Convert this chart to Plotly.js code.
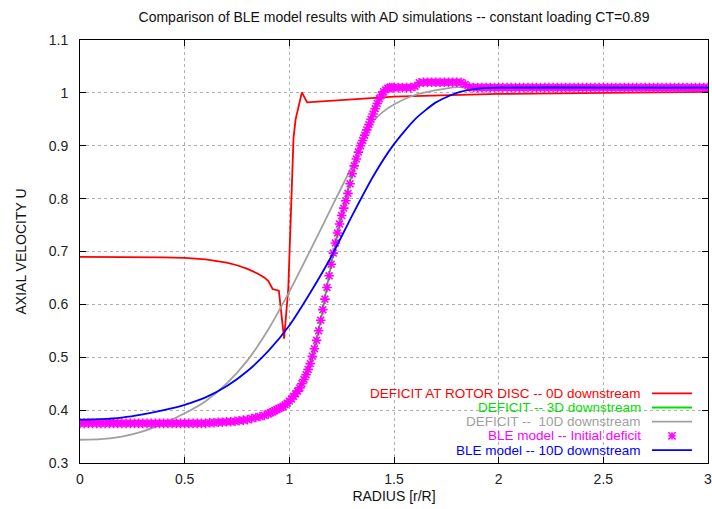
<!DOCTYPE html>
<html><head><meta charset="utf-8">
<script src="https://cdn.plot.ly/plotly-3.0.1.min.js"></script>
<style>html,body{margin:0;padding:0;background:#fff}#chart{width:712px;height:509px}</style>
</head><body><div id="chart"></div>
<script>
// ---- data ----
const chartTitle = "Comparison of BLE model results with AD simulations -- constant loading CT=0.89";
const xTitle = "RADIUS [r/R]";
const yTitle = "AXIAL VELOCITY U";
const seriesNames = [
  "DEFICIT AT ROTOR DISC -- 0D downstream",
  "DEFICIT -- 3D downstream",
  "DEFICIT --  10D downstream",
  "BLE model -- Initial deficit",
  "BLE model -- 10D downstream"
];
const seriesColors = ["#ff0000", "#00e000", "#a0a0a0", "#ff00ff", "#0000ff"];

// 0D downstream (red)
const redX = [0,0.2,0.4,0.5,0.6,0.7,0.75,0.8,0.85,0.88,0.90,0.92,0.95,0.975,0.995,1.01,1.02,1.03,1.06,1.085,1.2,1.5,2.0,2.5,3.0];
const redY = [0.690,0.690,0.689,0.688,0.685,0.679,0.674,0.667,0.658,0.651,0.644,0.629,0.626,0.535,0.630,0.800,0.915,0.950,1.001,0.982,0.985,0.993,0.998,1.000,1.002];

// 3D downstream (green, mostly hidden under the magenta markers)
const greenX = [0,0.5,0.8,0.9,1.0,1.05,1.1,1.15,1.2,1.25,1.3,1.35,1.4,1.45,1.5,1.6,1.65,1.82,1.86,2.0,3.0];
const greenY = [0.375,0.375,0.382,0.393,0.417,0.442,0.488,0.570,0.676,0.768,0.847,0.910,0.960,1.002,1.010,1.012,1.020,1.020,1.010,1.010,1.010];

// 10D downstream (gray)
const grayX = [0,0.1,0.2,0.3,0.4,0.5,0.6,0.7,0.8,0.9,1.0,1.1,1.2,1.3,1.4,1.45,1.5,1.6,1.7,1.8,1.9,2.0,2.5,3.0];
const grayY = [0.344,0.345,0.350,0.360,0.375,0.394,0.417,0.450,0.494,0.553,0.624,0.702,0.782,0.862,0.945,0.965,0.978,0.996,1.005,1.011,1.009,1.008,1.007,1.006];

// BLE model initial deficit (magenta markers)
const bleInitX = [
 0.00,0.02,0.04,0.06,0.08,0.10,0.12,0.14,0.16,0.18,0.20,0.22,0.24,0.26,0.28,0.30,0.32,0.34,0.36,0.38,
 0.40,0.42,0.44,0.46,0.48,0.50,0.52,0.54,0.56,0.58,0.60,0.62,0.64,0.66,0.68,0.70,0.72,0.74,0.76,0.78,
 0.80,0.82,0.84,0.86,0.88,0.90,
 0.91,0.92,0.93,0.94,0.95,0.96,0.97,0.98,0.99,1.00,1.01,1.02,1.03,1.04,1.05,1.06,1.07,1.08,1.09,1.10,
 1.11,1.12,1.13,1.14,1.15,1.16,1.17,1.18,1.19,1.20,1.21,1.22,1.23,1.24,1.25,1.26,1.27,1.28,1.29,1.30,
 1.31,1.32,1.33,1.34,1.35,1.36,1.37,1.38,1.39,1.40,1.41,1.42,1.43,1.44,1.45,1.46,1.47,1.48,1.49,1.50,
 1.52,1.54,1.56,1.58,1.60,1.62,1.64,1.66,1.68,1.70,1.72,1.74,1.76,1.78,1.80,1.82,1.84,1.86,1.88,1.90,
 1.92,1.94,1.96,1.98,2.00,2.02,2.04,2.06,2.08,2.10,2.12,2.14,2.16,2.18,2.20,2.22,2.24,2.26,2.28,2.30,
 2.32,2.34,2.36,2.38,2.40,2.42,2.44,2.46,2.48,2.50,2.52,2.54,2.56,2.58,2.60,2.62,2.64,2.66,2.68,2.70,
 2.72,2.74,2.76,2.78,2.80,2.82,2.84,2.86,2.88,2.90,2.92,2.94,2.96,2.98,3.00
];
const bleInitY = [
 0.375,0.375,0.375,0.375,0.375,0.375,0.375,0.375,0.375,0.375,0.375,0.375,0.375,0.375,0.375,0.375,0.375,0.375,0.375,0.375,
 0.375,0.375,0.375,0.375,0.375,0.375,0.375,0.375,0.375,0.375,0.375,0.376,0.376,0.377,0.377,0.378,0.378,0.379,0.380,0.381,
 0.382,0.384,0.386,0.388,0.390,0.393,
 0.395,0.397,0.399,0.401,0.403,0.405,0.407,0.410,0.413,0.417,0.421,0.426,0.431,0.436,0.442,0.450,0.458,0.467,0.477,0.488,
 0.502,0.516,0.532,0.550,0.570,0.590,0.610,0.632,0.654,0.676,0.697,0.716,0.735,0.752,0.768,0.782,0.796,0.810,0.828,0.847,
 0.862,0.875,0.888,0.900,0.910,0.920,0.930,0.940,0.950,0.960,0.970,0.980,0.989,0.996,1.002,1.006,1.009,1.010,1.010,1.010,
 1.010,1.010,1.010,1.010,1.012,1.019,1.020,1.020,1.020,1.020,1.020,1.020,1.020,1.020,1.020,1.020,1.016,1.011,1.010,1.010,
 1.010,1.010,1.010,1.010,1.010,1.010,1.010,1.010,1.010,1.010,1.010,1.010,1.010,1.010,1.010,1.010,1.010,1.010,1.010,1.010,
 1.010,1.010,1.010,1.010,1.010,1.010,1.010,1.010,1.010,1.010,1.010,1.010,1.010,1.010,1.010,1.010,1.010,1.010,1.010,1.010,
 1.010,1.010,1.010,1.010,1.010,1.010,1.010,1.010,1.010,1.010,1.010,1.010,1.010,1.010,1.010
];

// BLE model 10D downstream (blue)
const ble10X = [0,0.1,0.2,0.3,0.4,0.5,0.6,0.7,0.8,0.9,1.0,1.1,1.2,1.3,1.4,1.5,1.6,1.7,1.8,1.9,2.0,2.5,3.0];
const ble10Y = [0.382,0.383,0.386,0.392,0.400,0.410,0.424,0.445,0.474,0.512,0.560,0.622,0.690,0.768,0.842,0.903,0.950,0.982,1.000,1.008,1.010,1.010,1.010];

const xTicks = [0,0.5,1,1.5,2,2.5,3];
const yTicks = [0.3,0.4,0.5,0.6,0.7,0.8,0.9,1,1.1];

// ---- layout geometry ----
const W = 712, H = 509, ML = 80, MR = 4, MT = 40, MB = 46;
const PW = W - ML - MR, PH = H - MT - MB;
const px2x = p => (p - ML) / PW;
const py2y = p => (H - MB - p) / PH;
const FONT = "Liberation Sans, Arial, Helvetica, sans-serif";

const traces = [
  {x: redX, y: redY, mode: "lines", line: {color: seriesColors[0], width: 1.8}, name: seriesNames[0]},
  {x: greenX, y: greenY, mode: "lines", line: {color: seriesColors[1], width: 1.8, shape: "spline", smoothing: 0.5}, name: seriesNames[1]},
  {x: grayX, y: grayY, mode: "lines", line: {color: seriesColors[2], width: 1.8, shape: "spline", smoothing: 0.6}, name: seriesNames[2]},
  {x: bleInitX, y: bleInitY, mode: "markers", name: seriesNames[3],
   marker: {symbol: "asterisk-open", size: 8, color: seriesColors[3], line: {width: 1.6, color: seriesColors[3]}}},
  {x: ble10X, y: ble10Y, mode: "lines", line: {color: seriesColors[4], width: 1.8, shape: "spline", smoothing: 0.6}, name: seriesNames[4]}
];

// custom gnuplot-style key: right-aligned text, sample to the right
const rowPy = [393.3, 407.5, 421.7, 435.9, 450.1];
const annotations = [];
const shapes = [];
seriesNames.forEach((n, i) => {
  annotations.push({
    xref: "paper", yref: "paper", x: px2x(643), y: py2y(rowPy[i]),
    xanchor: "right", yanchor: "middle", showarrow: false, text: n,
    font: {family: FONT, size: 13.5, color: seriesColors[i]}
  });
  if (i === 3) {
    const cx = 672, cy = rowPy[i], r = 3.6;
    [[-r,0,r,0],[0,-r,0,r],[-r,-r,r,r],[-r,r,r,-r]].forEach(s => {
      shapes.push({type: "line", xref: "paper", yref: "paper",
        x0: px2x(cx + s[0]), y0: py2y(cy + s[1]), x1: px2x(cx + s[2]), y1: py2y(cy + s[3]),
        line: {color: seriesColors[i], width: 1.6}});
    });
  } else {
    shapes.push({type: "line", xref: "paper", yref: "paper",
      x0: px2x(652), x1: px2x(692), y0: py2y(rowPy[i]), y1: py2y(rowPy[i]),
      line: {color: seriesColors[i], width: 1.8}});
  }
});

const axisCommon = {
  showline: true, linecolor: "#000", linewidth: 1, mirror: "ticks",
  ticks: "inside", ticklen: 6, tickcolor: "#000", tickwidth: 1,
  showgrid: true, gridcolor: "#b0b0b0", griddash: "dot", gridwidth: 1,
  zeroline: false, tickfont: {family: FONT, size: 14, color: "#222"}
};

const layout = {
  width: W, height: H, margin: {l: ML, r: MR, t: MT, b: MB, pad: 0},
  paper_bgcolor: "#fff", plot_bgcolor: "#fff", showlegend: false,
  font: {family: FONT},
  title: {text: chartTitle, x: 0.5, xref: "paper", y: 1 - 17 / H, yref: "container",
          xanchor: "center", yanchor: "middle", font: {family: FONT, size: 14, color: "#111"}},
  xaxis: Object.assign({}, axisCommon, {range: [0, 3], tickvals: xTicks, ticktext: xTicks.map(String),
          ticklabelstandoff: 3, ticklabeloverflow: "allow",
          title: {text: xTitle, standoff: 5, font: {family: FONT, size: 14, color: "#111"}}}),
  yaxis: Object.assign({}, axisCommon, {range: [0.3, 1.1], tickvals: yTicks, ticktext: yTicks.map(String),
          ticklabelstandoff: 8,
          title: {text: yTitle, standoff: 18, font: {family: FONT, size: 14, color: "#111"}}}),
  annotations: annotations, shapes: shapes
};

Plotly.newPlot("chart", traces, layout, {displayModeBar: false, staticPlot: true});
</script>
</body></html>
